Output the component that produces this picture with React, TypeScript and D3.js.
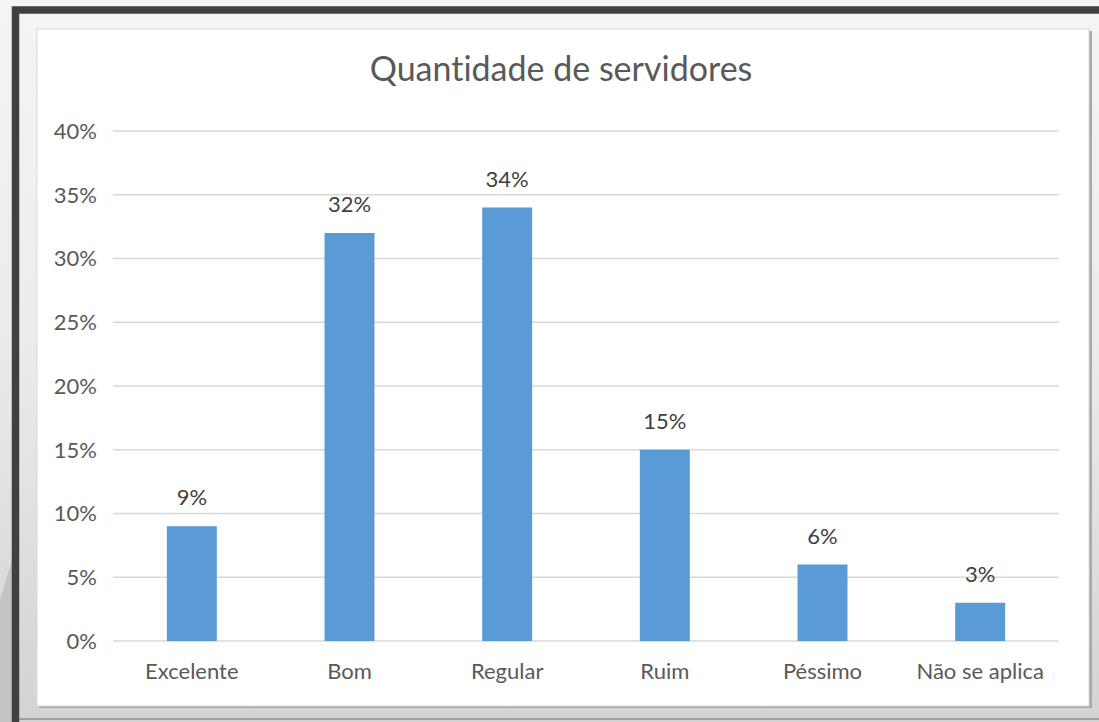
import React, { useEffect, useRef } from "react";
import * as d3 from "d3";

const categories = ["Excelente", "Bom", "Regular", "Ruim", "Péssimo", "Não se aplica"];
const values = [0.09, 0.32, 0.34, 0.15, 0.06, 0.03];
const yTicks = [0, 0.05, 0.1, 0.15, 0.2, 0.25, 0.3, 0.35, 0.4];
const title = "Quantidade de servidores";

const W = 1099;
const H = 722;
const FONT = "Lato, sans-serif";

export default function App() {
  const ref = useRef<SVGSVGElement | null>(null);

  useEffect(() => {
    document.body.style.margin = "0";
    const svg = d3.select(ref.current);
    svg.selectAll("*").remove();

    const defs = svg.append("defs");
    const grad = defs.append("linearGradient").attr("id", "bg").attr("x1", 0).attr("y1", 0).attr("x2", 0).attr("y2", 1);
    grad.append("stop").attr("offset", "0%").attr("stop-color", "#f4f4f4");
    grad.append("stop").attr("offset", "45%").attr("stop-color", "#ececec");
    grad.append("stop").attr("offset", "100%").attr("stop-color", "#d2d2d2");

    // page background
    svg.append("rect").attr("width", W).attr("height", H).attr("fill", "url(#bg)");
    svg.append("polygon").attr("points", "0,600 12,560 12,722 0,722").attr("fill", "#c4c4c4");
    // dark frame
    svg.append("rect").attr("x", 15.5).attr("y", 10).attr("width", W).attr("height", 730)
      .attr("fill", "url(#bg)").attr("stroke", "#404040").attr("stroke-width", 7.5);
    svg.append("line").attr("x1", 19).attr("x2", W).attr("y1", 719).attr("y2", 719)
      .attr("stroke", "#8f8f8f").attr("stroke-width", 1.5);

    // chart area with shadow
    svg.append("rect").attr("x", 39).attr("y", 31).attr("width", 1053).attr("height", 677).attr("fill", "#a8a8a8");
    svg.append("rect").attr("x", 37).attr("y", 29).attr("width", 1052).attr("height", 677)
      .attr("fill", "#ffffff").attr("stroke", "#d9d9d9").attr("stroke-width", 1);

    const left = 113, right = 1059, top = 131, bottom = 641;
    const x = d3.scaleBand().domain(categories).range([left, right]).paddingInner(0.683).paddingOuter(0.3415);
    const y = d3.scaleLinear().domain([0, 0.4]).range([bottom, top]);

    const g = svg.append("g");
    g.selectAll("line.grid").data(yTicks).join("line")
      .attr("x1", left).attr("x2", right)
      .attr("y1", (d) => y(d)).attr("y2", (d) => y(d))
      .attr("stroke", "#d9d9d9").attr("stroke-width", 1.3);

    g.selectAll("text.ytick").data(yTicks).join("text")
      .attr("x", 97).attr("y", (d) => y(d)).attr("dy", "0.36em")
      .attr("text-anchor", "end").attr("font-family", FONT).attr("font-size", 22)
      .attr("fill", "#595959").text((d) => d3.format(".0%")(d));

    g.selectAll("rect.bar").data(values).join("rect")
      .attr("x", (_, i) => x(categories[i])!).attr("width", x.bandwidth())
      .attr("y", (d) => y(d)).attr("height", (d) => bottom - y(d))
      .attr("fill", "#5b9bd5");

    g.selectAll("text.lbl").data(values).join("text")
      .attr("x", (_, i) => x(categories[i])! + x.bandwidth() / 2)
      .attr("y", (d) => y(d) - 21)
      .attr("text-anchor", "middle").attr("font-family", FONT).attr("font-size", 22)
      .attr("fill", "#404040").text((d) => d3.format(".0%")(d));

    g.selectAll("text.xtick").data(categories).join("text")
      .attr("x", (d) => x(d)! + x.bandwidth() / 2).attr("y", 679)
      .attr("text-anchor", "middle").attr("font-family", FONT).attr("font-size", 22)
      .attr("fill", "#595959").text((d) => d);

    svg.append("text").attr("x", 561).attr("y", 81).attr("text-anchor", "middle")
      .attr("font-family", FONT).attr("font-size", 34)
      .style("font-variant-ligatures", "none")
      .attr("fill", "#595959").text(title);
  }, []);

  return <svg ref={ref} width={W} height={H} style={{ display: "block" }} />;
}
